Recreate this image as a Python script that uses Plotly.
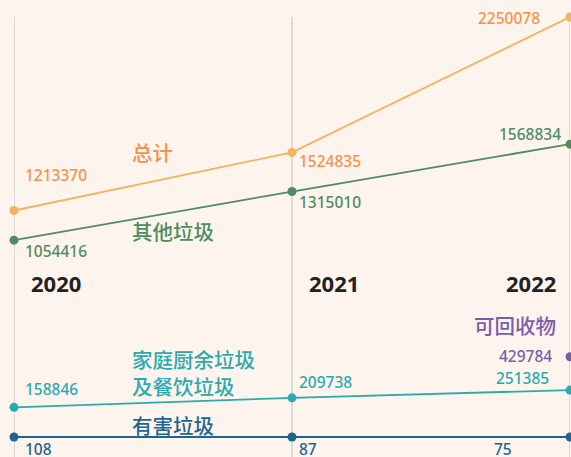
import plotly.graph_objects as go

years = [2020, 2021, 2022]
total = [1213370, 1524835, 2250078]
other = [1054416, 1315010, 1568834]
kitchen = [158846, 209738, 251385]
harmful = [108, 87, 75]
recyclable_years = [2022]
recyclable = [429784]

series_names = ["总计", "其他垃圾", "家庭厨余垃圾<br>及餐饮垃圾", "有害垃圾", "可回收物"]
year_labels = ["2020", "2021", "2022"]

C_TOTAL_LINE = "#F4B25E"
C_TOTAL_TEXT = "#F5924A"
C_OTHER = "#4F8C60"
C_KITCHEN = "#2BAAAF"
C_HARM = "#1D6590"
C_RECY = "#7A5DAA"
BG = "#FDF4EE"
GRID = "#CDC8C4"
FONT = "Noto Sans, Noto Sans CJK SC, sans-serif"

fig = go.Figure()

def add_line(xs, ys, line_color, marker_color=None):
    fig.add_trace(go.Scatter(
        x=xs, y=ys, mode="lines+markers",
        line=dict(color=line_color, width=1.8),
        marker=dict(color=marker_color or line_color, size=9),
        hoverinfo="skip", cliponaxis=False, showlegend=False))

add_line(years, total, C_TOTAL_LINE)
add_line(years, other, C_OTHER)
add_line(years, kitchen, C_KITCHEN)
add_line(years, harmful, C_HARM)
add_line(recyclable_years, recyclable, C_RECY)

ann = []

def val_label(x, y, color, xshift, yshift, xanchor="left"):
    ann.append(dict(x=x, y=y, xref="x", yref="y", text=str(y), showarrow=False,
                    xanchor=xanchor, yanchor="middle", xshift=xshift, yshift=yshift,
                    font=dict(family=FONT, size=15.5, color=color, weight=500)))

# total
val_label(2020, total[0], C_TOTAL_TEXT, 9, 36)
val_label(2021, total[1], C_TOTAL_TEXT, 5, -9)
val_label(2022, total[2], C_TOTAL_TEXT, -28, -1, "right")
# other
val_label(2020, other[0], C_OTHER, 9, -11)
val_label(2021, other[1], C_OTHER, 5, -10)
val_label(2022, other[2], C_OTHER, -7, 10, "right")
# kitchen
val_label(2020, kitchen[0], C_KITCHEN, 9, 18)
val_label(2021, kitchen[1], C_KITCHEN, 5, 16)
val_label(2022, kitchen[2], C_KITCHEN, -19, 12, "right")
# harmful
val_label(2020, harmful[0], C_HARM, 9, -12)
val_label(2021, harmful[1], C_HARM, 5, -12)
val_label(2022, harmful[2], C_HARM, -56, -12, "right")
# recyclable
val_label(2022, recyclable[0], C_RECY, -16, 1, "right")

def name_label(text, x, y, color, xanchor, xshift, yshift):
    ann.append(dict(x=x, y=y, xref="x", yref="y", text=text, showarrow=False,
                    xanchor=xanchor, yanchor="middle", xshift=xshift, yshift=yshift,
                    align=xanchor, font=dict(family=FONT, size=20.5, color=color, weight=500)))

name_label(series_names[0], 2020, total[0], C_TOTAL_TEXT, "left", 116, 58)
name_label(series_names[1], 2020, other[0], C_OTHER, "left", 116, 8)
name_label(series_names[2], 2020, kitchen[0], C_KITCHEN, "left", 116, 34)
name_label(series_names[3], 2020, harmful[0], C_HARM, "left", 116, 11)
name_label(series_names[4], 2022, recyclable[0], C_RECY, "right", -12, 31)

for i, yl in enumerate(year_labels):
    if i < 2:
        xa, xs = "left", 15
    else:
        xa, xs = "right", -12
    ann.append(dict(x=years[i], y=0.395, xref="x", yref="paper", text="<b>%s</b>" % yl,
                    showarrow=False, xanchor=xa, yanchor="middle", xshift=xs,
                    font=dict(family=FONT, size=22, color="#222222")))

shapes = [dict(type="line", xref="x", yref="paper", x0=yr, x1=yr, y0=0, y1=1,
               line=dict(color=GRID, width=1.2), layer="below") for yr in years]

ymax = 2250078
px_per = (ymax - 108) / 420.0
ymin = 108 - 20 * px_per

fig.update_layout(
    width=571, height=457,
    margin=dict(l=14, r=1, t=17, b=0),
    paper_bgcolor=BG, plot_bgcolor=BG,
    annotations=ann, shapes=shapes,
    xaxis=dict(range=[2020, 2022], showgrid=False,
               showticklabels=False, zeroline=False, showline=False),
    yaxis=dict(range=[ymin, ymax], showgrid=False, showticklabels=False,
               zeroline=False, showline=False),
)

fig.write_html("out.html", config={"displayModeBar": False},
               post_script="document.body.style.margin='0';document.body.style.overflow='hidden';document.body.style.background='%s';" % BG)
